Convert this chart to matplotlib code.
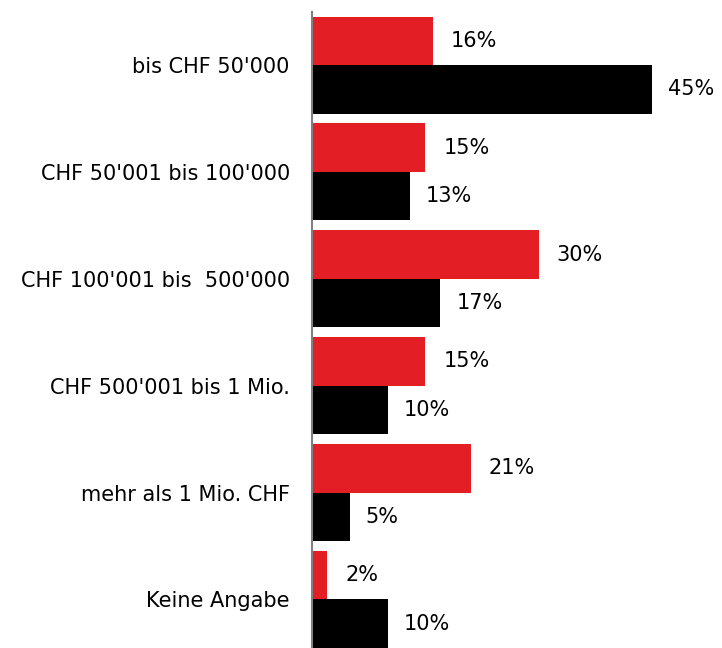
import numpy as np
import matplotlib.pyplot as plt

# Data
categories = ["bis CHF 50'000", "CHF 50'001 bis 100'000", "CHF 100'001 bis  500'000",
              "CHF 500'001 bis 1 Mio.", "mehr als 1 Mio. CHF", "Keine Angabe"]
red_values = [16, 15, 30, 15, 21, 2]
black_values = [45, 13, 17, 10, 5, 10]

fig = plt.figure(figsize=(7.22, 6.48), dpi=100)
ax = fig.add_axes([312 / 722, 0, 1 - 312 / 722, 636 / 648])

y = np.arange(len(categories))
h = 0.454
ax.barh(y - h / 2, red_values, height=h, color='#E31E24')
ax.barh(y + h / 2, black_values, height=h, color='#000000')

# Value labels next to each bar
for i in range(len(categories)):
    ax.text(red_values[i] + 2.4, y[i] - h / 2, f"{red_values[i]}%",
            va='center', ha='left', fontsize=15)
    ax.text(black_values[i] + 2.1, y[i] + h / 2, f"{black_values[i]}%",
            va='center', ha='left', fontsize=15)

ax.set_xlim(0, 410 / 7.55)
ax.set_ylim(5.455, -0.497)
ax.set_yticks(y)
ax.set_yticklabels(categories, fontsize=15)
ax.tick_params(axis='y', length=0, pad=16)
ax.set_xticks([])

for s in ['top', 'right', 'bottom']:
    ax.spines[s].set_visible(False)
ax.spines['left'].set_color('#808080')
ax.spines['left'].set_linewidth(1.5)

fig.savefig("out.png", dpi=100)
